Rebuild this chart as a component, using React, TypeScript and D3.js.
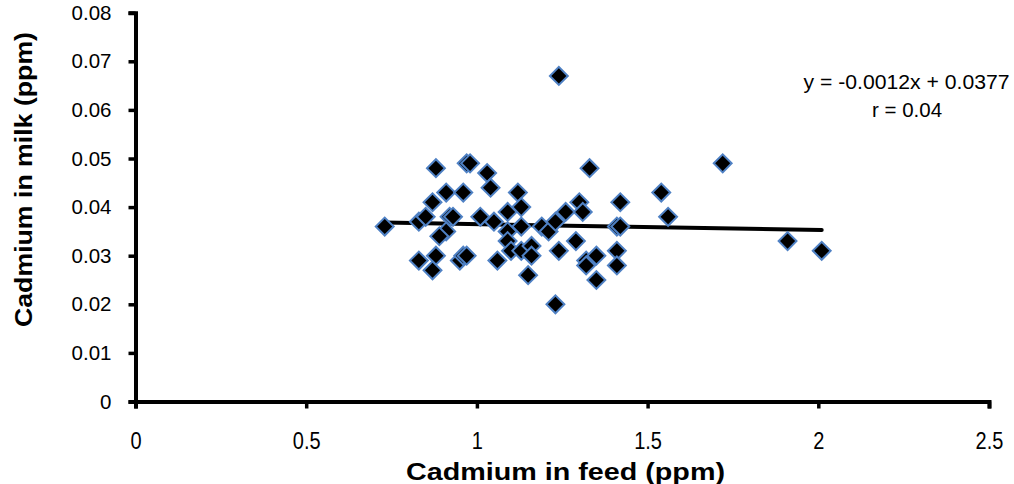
import React, { useEffect, useRef } from 'react'
import * as d3 from 'd3'

// Cadmium in feed (ppm) vs cadmium in milk (ppm)
const feed = [
  0.73, 0.83, 0.85, 0.88, 0.97, 0.98, 1.03, 1.04, 0.91, 0.96,
  0.87, 0.92, 0.93, 1.01, 1.05, 1.09, 1.12, 1.13, 1.09, 0.91,
  0.89, 0.83, 0.88, 0.87, 0.95, 0.96, 0.97, 1.06, 1.09, 1.10,
  1.13, 1.13, 1.16, 1.16, 1.15, 1.19, 1.21, 1.23, 1.23, 1.24,
  1.24, 1.26, 1.29, 1.30, 1.31, 1.33, 1.32, 1.32, 1.35, 1.35,
  1.41, 1.42, 1.42, 1.41, 1.41, 1.54, 1.56, 1.72, 1.91, 2.01,
]
const milk = [
  0.036, 0.037, 0.038, 0.048, 0.049, 0.049, 0.047, 0.044, 0.043, 0.043,
  0.041, 0.038, 0.038, 0.038, 0.037, 0.039, 0.043, 0.040, 0.035, 0.035,
  0.034, 0.029, 0.030, 0.027, 0.029, 0.030, 0.030, 0.029, 0.033, 0.031,
  0.036, 0.031, 0.032, 0.030, 0.026, 0.036, 0.035, 0.037, 0.020, 0.067,
  0.031, 0.039, 0.033, 0.041, 0.039, 0.048, 0.029, 0.028, 0.030, 0.025,
  0.036, 0.036, 0.041, 0.031, 0.028, 0.043, 0.038, 0.049, 0.033, 0.031,
]
const xTicks = [0, 0.5, 1, 1.5, 2, 2.5]
const yTicks = [0, 0.01, 0.02, 0.03, 0.04, 0.05, 0.06, 0.07, 0.08]
const slope = -0.0012
const intercept = 0.0377
const equationLabel = 'y = -0.0012x + 0.0377'
const rLabel = 'r = 0.04'

const W = 1014
const H = 484
const font = "'Liberation Sans', Arial, sans-serif"

const App: React.FC = () => {
  const ref = useRef<SVGSVGElement>(null)

  useEffect(() => {
    const svg = d3.select(ref.current)
    svg.selectAll('*').remove()

    const x = d3.scaleLinear().domain([0, 2.5]).range([135.5, 989])
    const y = d3.scaleLinear().domain([0, 0.08]).range([401.5, 12.7])

    // y axis
    const yAxis = svg
      .append('g')
      .attr('transform', `translate(${x(0)},0)`)
      .call(
        d3
          .axisLeft(y)
          .tickValues(yTicks)
          .tickSize(7)
          .tickPadding(17)
          .tickFormat((d) => (d === 0 ? '0' : d3.format('.2f')(d as number)))
      )
    yAxis.select('.domain').attr('stroke', '#000').attr('stroke-width', 4)
    yAxis.selectAll('.tick line').attr('stroke', '#000').attr('stroke-width', 3.5)
    yAxis
      .selectAll('.tick text')
      .attr('fill', '#000')
      .style('font-family', font)
      .style('font-size', '20.5px')

    // x axis
    const xAxis = svg
      .append('g')
      .attr('transform', `translate(0,${y(0)})`)
      .call(d3.axisBottom(x).tickValues(xTicks).tickSize(7).tickFormat((d) => String(d)))
    xAxis.select('.domain').attr('stroke', '#000').attr('stroke-width', 4)
    xAxis.selectAll('.tick line').attr('stroke', '#000').attr('stroke-width', 3.5)
    xAxis
      .selectAll('.tick text')
      .attr('fill', '#000')
      .attr('y', 0)
      .attr('dy', 0)
      .attr('transform', 'translate(0,47.5) scale(1,1.24)')
      .style('font-family', font)
      .style('font-size', '20px')

    // trend line
    const x0 = d3.min(feed) as number
    const x1 = d3.max(feed) as number
    svg
      .append('line')
      .attr('x1', x(x0))
      .attr('y1', y(slope * x0 + intercept))
      .attr('x2', x(x1))
      .attr('y2', y(slope * x1 + intercept))
      .attr('stroke', '#000')
      .attr('stroke-width', 4)
      .attr('stroke-linecap', 'round')

    // points
    const diamond = d3.symbol().type(d3.symbolSquare).size(160)
    svg
      .append('g')
      .selectAll('path')
      .data(feed.map((f, i) => ({ f, m: milk[i] })))
      .enter()
      .append('path')
      .attr('d', diamond)
      .attr('transform', (d) => `translate(${x(d.f)},${y(d.m)}) rotate(45)`)
      .attr('fill', '#000')
      .attr('stroke', '#4f81c4')
      .attr('stroke-width', 2)

    // equation
    svg
      .append('text')
      .attr('x', 906.5)
      .attr('y', 89)
      .attr('text-anchor', 'middle')
      .attr('textLength', 206)
      .attr('lengthAdjust', 'spacingAndGlyphs')
      .style('font-family', font)
      .style('font-size', '20.5px')
      .text(equationLabel)
    svg
      .append('text')
      .attr('x', 907)
      .attr('y', 117)
      .attr('text-anchor', 'middle')
      .style('font-family', font)
      .style('font-size', '20.5px')
      .text(rLabel)

    // axis titles
    svg
      .append('text')
      .attr('x', 565.5)
      .attr('y', 480)
      .attr('text-anchor', 'middle')
      .attr('textLength', 319)
      .attr('lengthAdjust', 'spacingAndGlyphs')
      .style('font-family', font)
      .style('font-size', '23px')
      .style('font-weight', 'bold')
      .text('Cadmium  in feed (ppm)')
    svg
      .append('text')
      .attr('transform', 'translate(31.5,179.5) rotate(-90)')
      .attr('text-anchor', 'middle')
      .attr('textLength', 295)
      .attr('lengthAdjust', 'spacingAndGlyphs')
      .style('font-family', font)
      .style('font-size', '23px')
      .style('font-weight', 'bold')
      .text('Cadmium  in milk (ppm)')
  }, [])

  return (
    <svg
      ref={ref}
      width={W}
      height={H}
      style={{ position: 'absolute', left: 0, top: 0, background: '#fff' }}
    />
  )
}

export default App
